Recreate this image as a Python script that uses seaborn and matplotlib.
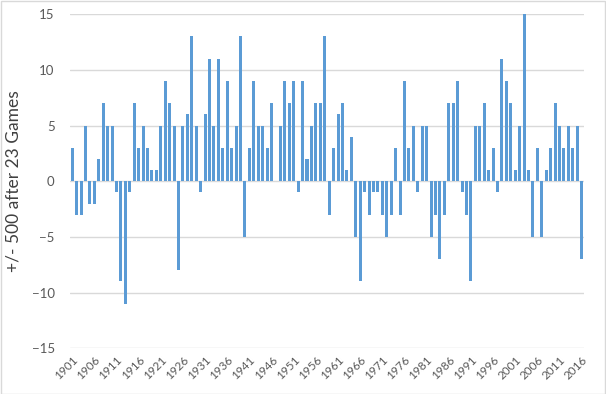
import seaborn as sns
import pandas as pd
import matplotlib.pyplot as plt
from matplotlib.patches import Rectangle

# data: games over/under .500 after 23 games, per season
years = list(range(1901, 2017))
vals_1901_1940 = [3, -3, -3, 5, -2, -2, 2, 7, 5, 5,
                  -1, -9, -11, -1, 7, 3, 5, 3, 1, 1,
                  5, 9, 7, 5, -8, 5, 6, 13, 5, -1,
                  6, 11, 5, 11, 3, 9, 3, 5, 13, -5]
vals_1941_1980 = [3, 9, 5, 5, 3, 7, 0, 5, 9, 7,
                  9, -1, 9, 2, 5, 7, 7, 13, -3, 3,
                  6, 7, 1, 4, -5, -9, -1, -3, -1, -1,
                  -3, -5, -3, 3, -3, 9, 3, 5, -1, 5]
vals_1981_2016 = [5, -5, -3, -7, -3, 7, 7, 9, -1, -3,
                  -9, 5, 5, 7, 1, 3, -1, 11, 9, 7,
                  1, 5, 15, 1, -5, 3, -5, 1, 3, 7,
                  5, 3, 5, 3, 5, -7]
values = vals_1901_1940 + vals_1941_1980 + vals_1981_2016
y_ticks = [-15, -10, -5, 0, 5, 10, 15]

df = pd.DataFrame({'year': [str(y) for y in years], 'diff': values})

# style
sns.set_style('white')
plt.rcParams['font.family'] = ['Lato', 'DejaVu Sans']

fig = plt.figure(figsize=(6.06, 3.94), dpi=100)
ax = fig.add_axes([0.1155, 0.116, 0.848, 0.848])

sns.barplot(data=df, x='year', y='diff', color='#5B9BD5', saturation=1,
            width=0.68, linewidth=0, ax=ax)
# crisp bars like the excel export
for p in ax.patches:
    p.set_antialiased(False)

ax.set_ylim(-15, 15)
ax.set_yticks(y_ticks)
ax.set_xlim(-0.5, len(years) - 0.5)
ax.set_xticks(range(0, len(years), 5))
ax.set_xticklabels([str(y) for y in years[::5]], rotation=45, ha='right',
                   rotation_mode='anchor')

ax.set_axisbelow(True)
ax.yaxis.grid(True, color='#D9D9D9', linewidth=1)
ax.xaxis.grid(False)
for s in ax.spines.values():
    s.set_visible(False)

ax.tick_params(axis='y', length=0, pad=11, labelsize=9.5, labelcolor='#595959')
ax.tick_params(axis='x', length=0, pad=4, labelsize=8.5, labelcolor='#595959')

ax.set_xlabel('')
ax.set_ylabel('+/- 500 after 23 Games', fontsize=12.5, color='#404040', labelpad=7)

# chart-area border
fig.patches.append(Rectangle((0.001, 0.001), 0.997, 0.997, transform=fig.transFigure,
                             fill=False, edgecolor='#D9D9D9', linewidth=1))

fig.savefig('out.png', dpi=100)
